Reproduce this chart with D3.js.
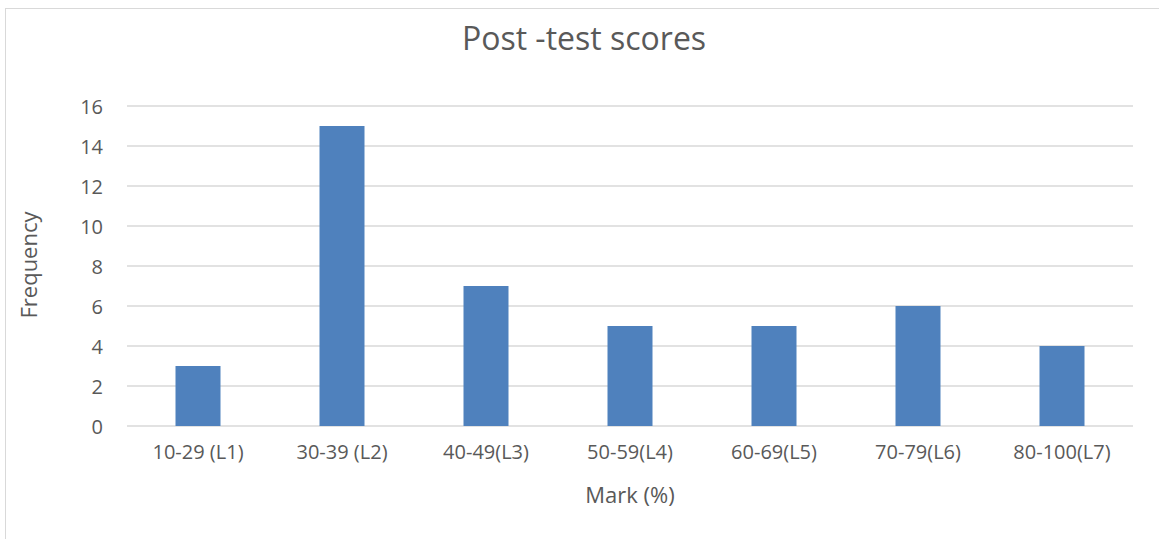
<!DOCTYPE html>
<html>
<head>
<meta charset="utf-8">
<script src="https://cdn.jsdelivr.net/npm/d3@7"></script>
<style>
  html, body { margin: 0; padding: 0; background: #fff; }
  svg text { font-family: "Open Sans", "Noto Sans", sans-serif; fill: #595959; }
</style>
</head>
<body>
<div id="chart"></div>
<script>
// data
var categories = ['10-29 (L1)', '30-39 (L2)', '40-49(L3)', '50-59(L4)', '60-69(L5)', '70-79(L6)', '80-100(L7)'];
var frequency = [3, 15, 7, 5, 5, 6, 4];
var yTicks = [0, 2, 4, 6, 8, 10, 12, 14, 16];

var width = 1159,
  height = 539;

var plot = { left: 126, right: 1134, top: 106, bottom: 426 };

var svg = d3.select('#chart').append('svg')
  .attr('width', width)
  .attr('height', height);

// chart frame
svg.append('rect')
  .attr('x', 5.5).attr('y', 8.5)
  .attr('width', 1160).attr('height', 540)
  .attr('fill', 'none')
  .attr('stroke', '#d9d9d9')
  .attr('stroke-width', 1);

var x = d3.scaleBand()
  .domain(categories)
  .range([plot.left, plot.right])
  .paddingInner(0.6875)
  .paddingOuter(0.34375);

var y = d3.scaleLinear()
  .domain([0, 16])
  .range([plot.bottom, plot.top]);

// gridlines
svg.append('g')
  .selectAll('line')
  .data(yTicks)
  .join('line')
  .attr('x1', plot.left + 1)
  .attr('x2', plot.right - 1)
  .attr('y1', function(d) { return y(d); })
  .attr('y2', function(d) { return y(d); })
  .attr('stroke', '#d9d9d9')
  .attr('stroke-width', 1.3);

// bars
svg.append('g')
  .selectAll('rect')
  .data(frequency)
  .join('rect')
  .attr('x', function(d, i) { return x(categories[i]); })
  .attr('y', function(d) { return y(d); })
  .attr('width', x.bandwidth())
  .attr('height', function(d) { return y(0) - y(d); })
  .attr('fill', '#4f81bd');

// y axis labels
var yAxis = svg.append('g')
  .attr('transform', 'translate(' + (plot.left - 23) + ',0)')
  .call(d3.axisLeft(y).tickValues(yTicks).tickSize(0).tickPadding(0));
yAxis.select('.domain').remove();
yAxis.selectAll('text')
  .style('font-size', '20px')
  .attr('dy', '0.35em');

// x axis labels
var xAxis = svg.append('g')
  .attr('transform', 'translate(0,' + plot.bottom + ')')
  .call(d3.axisBottom(x).tickSize(0).tickPadding(19));
xAxis.select('.domain').remove();
xAxis.selectAll('text')
  .style('font-size', '20px');

// title
svg.append('text')
  .attr('x', 584)
  .attr('y', 50)
  .attr('text-anchor', 'middle')
  .style('font-size', '32px')
  .text('Post -test scores');

// axis titles
svg.append('text')
  .attr('x', 630)
  .attr('y', 503)
  .attr('text-anchor', 'middle')
  .style('font-size', '22px')
  .text('Mark (%)');

svg.append('text')
  .attr('transform', 'translate(37,265) rotate(-90)')
  .attr('text-anchor', 'middle')
  .style('font-size', '22px')
  .text('Frequency');
</script>
</body>
</html>
